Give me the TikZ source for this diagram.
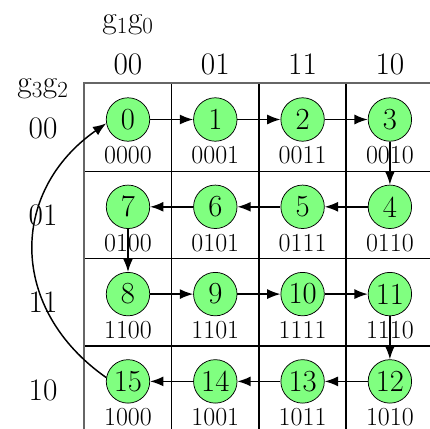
\documentclass[tikz,border=0pt]{standalone}
\usepackage{fontspec}
\usetikzlibrary{arrows.meta}
\definecolor{nodegreen}{RGB}{128,255,128}
\begin{document}
\begin{tikzpicture}[x=0.75pt,y=-0.75pt,
  state/.style={circle,draw=black,line width=0.55pt,fill=nodegreen,minimum size=32.6pt,inner sep=0pt,font=\fontsize{23}{27}\selectfont},
  code/.style={inner sep=0pt,font=\fontsize{19.5}{23}\selectfont},
  head/.style={inner sep=0pt,font=\fontsize{23.5}{28}\selectfont},
  arr/.style={-{Latex[length=10pt,width=7.5pt]},line width=1.1pt},
  gridline/.style={line width=0.8pt,black},
  borderline/.style={line width=1pt,black!60}]
\useasboundingbox (0,0) rectangle (430,429);
% grid
\foreach \x in {171.5,259,346} \draw[gridline] (\x,83) -- (\x,440);
\foreach \y in {171.5,258.5,346} \draw[gridline] (84,\y) -- (440,\y);
\draw[borderline] (84,440) -- (84,83) -- (440,83);
% headers
\node[head] (top) at (128,25) {$\mathrm{g}_1\mathrm{g}_0$};
\node[head] (left) at (43,89) {$\mathrm{g}_3\mathrm{g}_2$};
\foreach \i/\t in {0/00,1/01,2/11,3/10} {
  \node[head] (col\i) at ({128+87.3*\i},64) {\t};
  \node[head] (row\i) at (43,{128+87.3*\i}) {\t};
}
% labels and states
\foreach \n/\c/\r/\lab in {0/0/0/0000,1/1/0/0001,2/2/0/0011,3/3/0/0010,4/3/1/0110,5/2/1/0111,6/1/1/0101,7/0/1/0100,8/0/2/1100,9/1/2/1101,10/2/2/1111,11/3/2/1110,12/3/3/1010,13/2/3/1011,14/1/3/1001,15/0/3/1000} {
  \node[code] (c\n) at ({128+87.3*\c},{155.5+87.3*\r}) {\lab};
  \node[state] (n\n) at ({128+87.3*\c},{119.5+87.3*\r}) {\n};
}
% arrows
\foreach \a/\b in {0/1,1/2,2/3,3/4,4/5,5/6,6/7,7/8,8/9,9/10,10/11,11/12,12/13,13/14,14/15}
  \draw[arr] (n\a) -- (n\b);
\draw[arr] (n15.170) to[out=145,in=215,looseness=1.2] (n0.190);
\end{tikzpicture}
\end{document}
